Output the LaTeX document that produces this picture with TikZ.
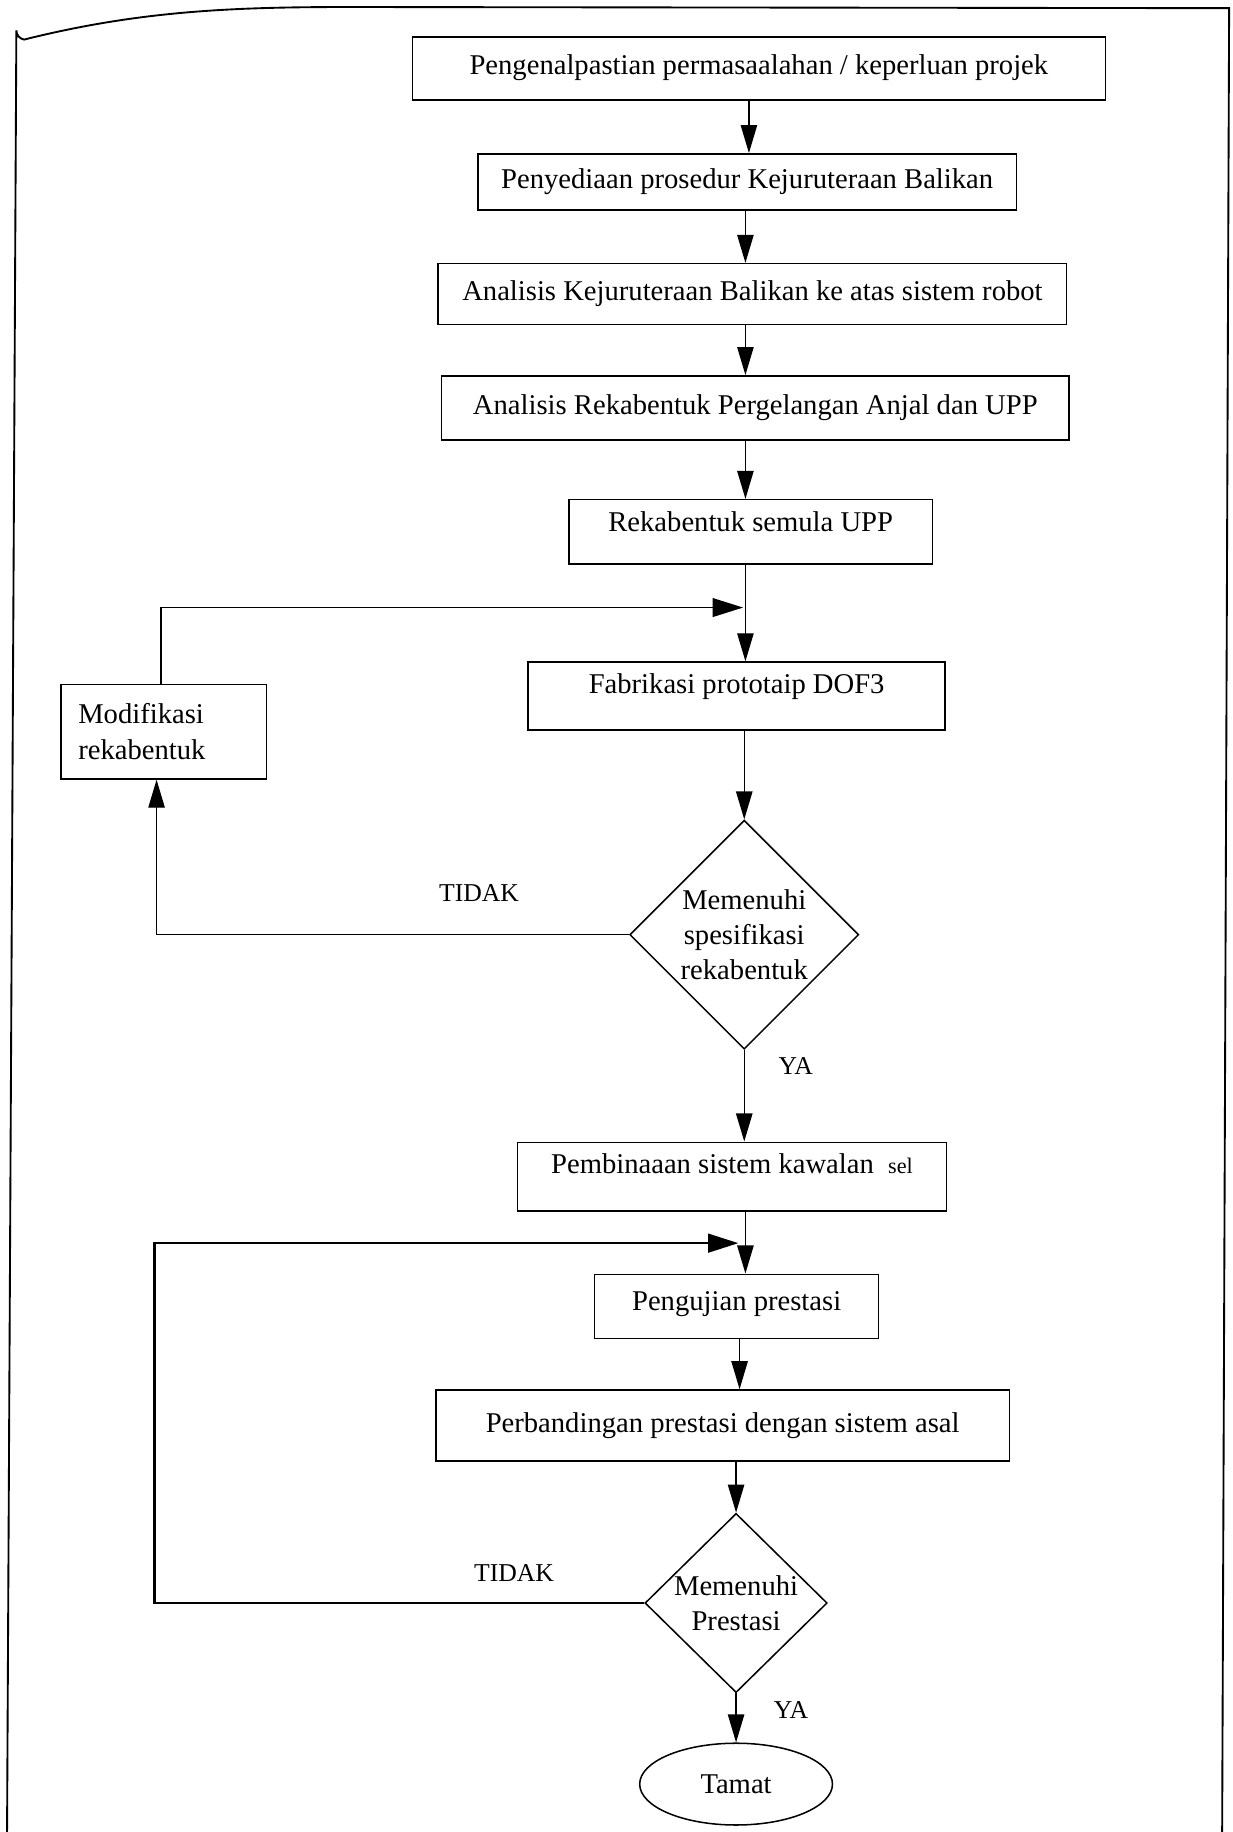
\documentclass[tikz,border=0pt]{standalone}
\usepackage{fontspec}
\setmainfont{Liberation Serif}
\usetikzlibrary{arrows.meta,shapes.geometric}
\begin{document}
\begin{tikzpicture}[x=1pt,y=-1pt,
  font=\fontsize{24.5}{30}\selectfont,
  box/.style={draw,line width=1.3pt,anchor=north,inner sep=4pt,text height=17pt,text depth=6pt},
  sidebox/.style={draw,line width=1.3pt,anchor=north,align=left,inner xsep=15pt,inner ysep=4pt},
  dec/.style={draw,line width=1.3pt,shape=diamond,aspect=1,inner sep=0pt,align=center},
  arr/.style={line width=1.2pt,-{Triangle[length=24pt,width=14pt]}},
  harr/.style={line width=1.3pt,-{Triangle[length=26pt,width=16pt]}},
  lbl/.style={font=\fontsize{22}{26}\selectfont}]
\useasboundingbox (0,0) rectangle (1055,1568);
% frame
\draw[line width=1.6pt] (6,1575) -- (14,26) arc[start angle=180,end angle=100,radius=8]
  .. controls (120,9) and (200,6) .. (300,6) -- (1052,7) -- (1046,1575);

% boxes
\node[box,minimum width=593pt,minimum height=54pt] (b1) at (649.5,31) {Pengenalpastian permasaalahan / keperluan projek};
\node[box,minimum width=461pt,minimum height=48pt] (b2) at (639.5,131) {Penyediaan prosedur Kejuruteraan Balikan};
\node[box,minimum width=538pt,minimum height=52pt] (b3) at (644,225) {Analisis Kejuruteraan Balikan ke atas sistem robot};
\node[box,minimum width=537pt,minimum height=55pt] (b4) at (646.5,321) {Analisis Rekabentuk Pergelangan Anjal dan UPP};
\node[box,minimum width=311pt,minimum height=55pt,text depth=18pt] (b5) at (642.5,427) {Rekabentuk semula UPP};
\node[box,minimum width=357pt,minimum height=58pt,text depth=21pt] (b6) at (630.5,566) {Fabrikasi prototaip DOF3};
\node[sidebox,minimum width=176pt,minimum height=81pt,text width=146pt] (b7) at (140,585) {Modifikasi\\rekabentuk};
\node[dec,minimum width=196pt,minimum height=196pt] (d1) at (637,800) {Memenuhi\\spesifikasi\\rekabentuk};
\node[box,minimum width=367pt,minimum height=59pt,text depth=23pt] (b9) at (626.5,977) {Pembinaaan sistem kawalan\ \ {\fontsize{19}{22}\selectfont sel}};
\node[box,minimum width=243pt,minimum height=55pt,text depth=10pt] (b10) at (630.5,1090) {Pengujian prestasi};
\node[box,minimum width=491pt,minimum height=61pt] (b11) at (618.5,1189) {Perbandingan prestasi dengan sistem asal};
\node[dec,minimum width=156pt,minimum height=152pt] (d2) at (630,1372) {Memenuhi\\Prestasi};
\node[draw,line width=1.3pt,ellipse,minimum width=165pt,minimum height=70pt,inner sep=0pt] (e) at (630,1527) {Tamat};

% column coordinates
\coordinate (c1) at (641,0);
\coordinate (c2) at (638,0);
\coordinate (c3) at (633,0);
\coordinate (k0) at (138,0);
\coordinate (k1) at (134,0);
\coordinate (k2) at (132,0);
\coordinate (j1) at (636,520);
\coordinate (j2) at (632,1064);

% main flow
\draw[arr] (b1.south -| c1) -- (b2.north -| c1);
\draw[arr] (b2.south -| c2) -- (b3.north -| c2);
\draw[arr] (b3.south -| c2) -- (b4.north -| c2);
\draw[arr] (b4.south -| c2) -- (b5.north -| c2);
\draw[arr] (b5.south -| c2) -- (b6.north -| c2);
\draw[arr] (b6.south -| d1.north) -- (d1.north);
\draw[arr] (d1.south) -- (b9.north -| d1.south);
\draw[arr] (b9.south -| c2) -- (b10.north -| c2);
\draw[arr] (b10.south -| c3) -- (b11.north -| c3);
\draw[arr] (b11.south -| d2.north) -- (d2.north);
\draw[arr] (d2.south) -- (e.north);

% loop 1
\draw[harr] (b7.north -| k0) |- (j1);
\draw[arr] (d1.west) -| (b7.south -| k1);
% loop 2
\draw[harr,line width=2.2pt] (d2.west) -| (k2 |- j2) -- (j2);

% labels
\node[lbl] (t1) at (410,764) {TIDAK};
\node[lbl] (y1) at (681,912) {YA};
\node[lbl] (t2) at (440,1346) {TIDAK};
\node[lbl] (y2) at (677,1464) {YA};
\end{tikzpicture}
\end{document}
